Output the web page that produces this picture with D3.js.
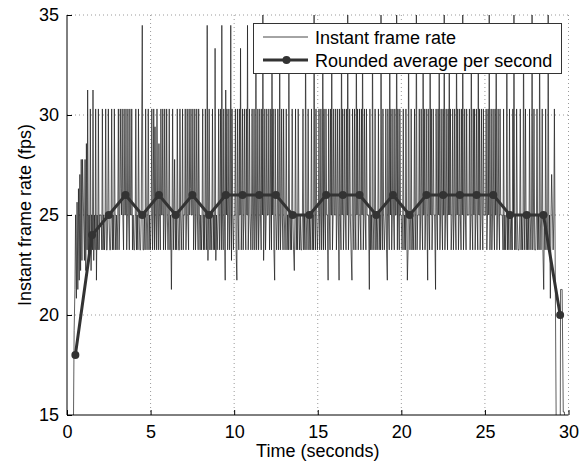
<!DOCTYPE html>
<html><head><meta charset="utf-8">
<script src="https://cdn.jsdelivr.net/npm/d3@7/dist/d3.min.js"></script>
<style>
html,body{margin:0;padding:0;background:#fff;}
text{font-family:"Liberation Sans",Arial,Helvetica,sans-serif;}
</style></head>
<body>
<svg id="chart" width="584" height="464"></svg>
<script>
// ---- data ----
// Frame intervals (ms) per one-second block; instant frame rate = 1000 / interval.
const firstFrameStart = 0.30; // seconds, start of the first block
const frameIntervalsMs = [
  [75,52,47,40,48,39,47,38,46,37,45,36,44,36],
  [44,36,45,35,43,32,44,40,43,33,45,40,43,32,44,40,43,33,46,40,43,33,43,40],
  [40,43,33,43,40,43,40,33,43,43,40,33,40,43,43,40,33,43,40,43,33,40,43,40,43],
  [40,33,43,40,33,38,40,33,40,43,33,40,40,33,43,40,33,40,43,33,40,40,33,43,40,43],
  [43,40,33,43,40,43,33,40,43,43,40,33,29,43,43,40,43,33,40,43,40,33,43,40,43],
  [40,33,43,40,33,43,34,40,43,33,40,43,35,40,43,33,40,40,33,43,40,33,43,40,33,40],
  [43,40,33,43,40,47,40,33,43,40,36,43,40,43,33,40,43,43,33,40,43,40,33,43,40],
  [40,33,43,40,33,40,43,33,40,38,33,40,40,33,43,40,33,43,40,33,40,43,33,40,43,40],
  [43,40,33,43,40,43,33,40,43,29,44,40,33,43,40,43,40,33,43,40,43,30,44,40,43],
  [40,33,43,40,33,43,29,40,43,33,40,46,32,40,33,43,40,33,43,40,29,44,33,40,43,40],
  [40,33,43,46,33,40,43,33,40,30,43,40,33,43,40,33,40,43,33,40,29,43,40,33,40,43],
  [40,33,43,40,33,43,40,29,43,40,33,43,40,33,40,43,33,40,28,44,40,33,43,40,33,40],
  [40,33,43,40,33,43,29,40,33,43,46,33,40,43,40,33,43,40,29,43,40,33,40,43,33,40],
  [43,40,33,43,40,43,29,40,43,40,43,33,40,43,45,40,33,43,40,43,33,40,43,40,43],
  [43,40,33,43,40,43,29,40,43,40,33,43,40,43,40,33,43,40,43,28,40,43,33,40,43],
  [40,33,43,40,33,43,40,29,43,33,40,43,33,40,40,46,33,40,43,33,40,29,43,40,33,40],
  [40,33,43,40,33,40,46,33,40,43,29,40,33,43,40,33,40,43,33,40,28,43,40,33,40,43],
  [46,33,40,43,33,40,43,29,40,33,43,40,33,40,43,33,40,29,43,40,33,40,43,33,40,40],
  [40,47,33,43,40,43,29,40,43,40,33,43,40,43,40,33,43,40,43,28,40,43,33,40,43],
  [40,33,43,46,33,40,43,29,40,33,43,40,33,40,43,33,40,40,28,43,33,40,43,33,40,40],
  [43,40,33,43,40,43,33,40,46,43,29,40,43,40,33,43,40,43,40,33,43,40,28,43,40],
  [40,33,43,40,33,40,43,29,40,33,43,40,33,40,46,33,40,43,29,40,33,43,40,33,40,40],
  [47,33,40,43,33,40,29,43,40,33,40,43,33,40,28,43,40,33,40,43,33,40,29,40,33,43],
  [40,33,43,40,33,40,43,29,40,33,43,40,33,40,43,33,40,28,43,40,33,40,43,33,40,40],
  [40,33,43,40,29,40,43,33,40,33,43,40,33,40,43,29,40,33,43,40,33,40,43,33,40,40],
  [40,33,43,40,33,40,28,43,40,33,43,40,33,40,43,33,40,29,43,40,33,40,43,33,40,40],
  [40,43,33,43,40,43,40,29,43,40,43,33,40,43,40,43,33,40,28,43,40,43,33,40,43],
  [43,40,33,43,40,43,40,29,43,40,33,43,40,43,40,43,33,40,43,40,28,43,40,33,43],
  [43,40,33,43,40,43,29,40,43,40,33,43,47,40,43,33,40,43,40,28,43,40,48,40,37],
  [40,43,40,33,43,90,190,47,47,47,66,66,70]
];
const avgTimes = [0.5,1.5,2.5,3.5,4.5,5.5,6.5,7.5,8.5,9.5,10.5,11.5,12.5,13.5,14.5,15.5,16.5,17.5,18.5,19.5,20.5,21.5,22.5,23.5,24.5,25.5,26.5,27.5,28.5,29.5];
const avgFps   = [18,24,25,26,25,26,25,26,25,26,26,26,26,25,25,26,26,26,25,26,25,26,26,26,26,26,25,25,25,20];
const xTicks = [0,5,10,15,20,25,30];
const yTicks = [15,20,25,30,35];
const legendLabels = ["Instant frame rate","Rounded average per second"];
const xLabel = "Time (seconds)";
const yLabel = "Instant frame rate (fps)";

// ---- build frame series ----
const frames = [];
frameIntervalsMs.forEach((row,k)=>{
  let t = k === 0 ? firstFrameStart : k;
  row.forEach(ms=>{ t += ms/1000; frames.push({t:t, fps:1000/ms}); });
});
const avg = avgTimes.map((t,i)=>({t:t, fps:avgFps[i]}));

// ---- layout ----
const svg = d3.select("#chart");
const L=67, R=568.5, T=15, B=415;
const x = d3.scaleLinear().domain([0,30]).range([L,R]);
const y = d3.scaleLinear().domain([15,35]).range([B,T]);
const font = 18;

// grid (dotted)
const grid = svg.append("g");
grid.selectAll("line.gx").data(xTicks.filter(d=>d>0)).enter().append("line")
  .attr("x1",d=>x(d)).attr("x2",d=>x(d)).attr("y1",T).attr("y2",B)
  .attr("stroke","#9a9a9a").attr("stroke-width",1).attr("stroke-dasharray","1,3");
grid.selectAll("line.gy").data(yTicks.filter(d=>d>15)).enter().append("line")
  .attr("x1",L).attr("x2",R).attr("y1",d=>y(d)).attr("y2",d=>y(d))
  .attr("stroke","#9a9a9a").attr("stroke-width",1).attr("stroke-dasharray","1,3");

// clip
svg.append("defs").append("clipPath").attr("id","plotclip")
  .append("rect").attr("x",L).attr("y",T).attr("width",R-L).attr("height",B-T);

// instant line
const lineGen = d3.line().x(d=>x(d.t)).y(d=>y(d.fps));
svg.append("path").datum(frames).attr("clip-path","url(#plotclip)")
  .attr("d",lineGen).attr("fill","none").attr("stroke","#1a1a1a").attr("stroke-width",0.7);

// average line
svg.append("path").datum(avg).attr("d",lineGen).attr("fill","none")
  .attr("stroke","#333").attr("stroke-width",3).attr("stroke-linejoin","round");
svg.selectAll("circle.avg").data(avg).enter().append("circle")
  .attr("cx",d=>x(d.t)).attr("cy",d=>y(d.fps)).attr("r",4).attr("fill","#333");

// axes
const xAxis = d3.axisBottom(x).tickValues(xTicks).tickSize(-5).tickPadding(10).tickFormat(d3.format("d"));
const yAxis = d3.axisLeft(y).tickValues(yTicks).tickSize(-5).tickPadding(8).tickFormat(d3.format("d"));
const gx = svg.append("g").attr("transform",`translate(0,${B})`).call(xAxis);
const gy = svg.append("g").attr("transform",`translate(${L},0)`).call(yAxis);
[gx,gy].forEach(g=>{
  g.select(".domain").attr("stroke","#000").attr("stroke-width",1);
  g.selectAll(".tick line").attr("stroke","#000");
  g.selectAll(".tick text").attr("font-size",font).attr("fill","#000")
    .style("font-family","'Liberation Sans',Arial,sans-serif");
});
gx.select(".domain").attr("d",`M${L},0H${R}`);
gy.select(".domain").attr("d",`M0,${B}V${T}`);

// axis labels
svg.append("text").attr("x",(L+R)/2).attr("y",457).attr("text-anchor","middle")
  .attr("font-size",font).text(xLabel);
svg.append("text").attr("transform",`translate(31,${(T+B)/2}) rotate(-90)`)
  .attr("text-anchor","middle").attr("font-size",font).text(yLabel);

// legend
const lg = svg.append("g");
lg.append("rect").attr("x",253.5).attr("y",23.5).attr("width",308).attr("height",50)
  .attr("fill","#fff").attr("stroke","#333").attr("stroke-width",1);
lg.append("line").attr("x1",263).attr("x2",308).attr("y1",37).attr("y2",37)
  .attr("stroke","#1a1a1a").attr("stroke-width",0.8);
lg.append("line").attr("x1",263).attr("x2",308).attr("y1",60).attr("y2",60)
  .attr("stroke","#333").attr("stroke-width",3);
lg.append("circle").attr("cx",286.5).attr("cy",60).attr("r",4).attr("fill","#333");
lg.selectAll("text").data(legendLabels).enter().append("text")
  .attr("x",315).attr("y",(d,i)=>44+i*23).attr("font-size",font).attr("fill","#000").text(d=>d);
</script>
</body></html>
